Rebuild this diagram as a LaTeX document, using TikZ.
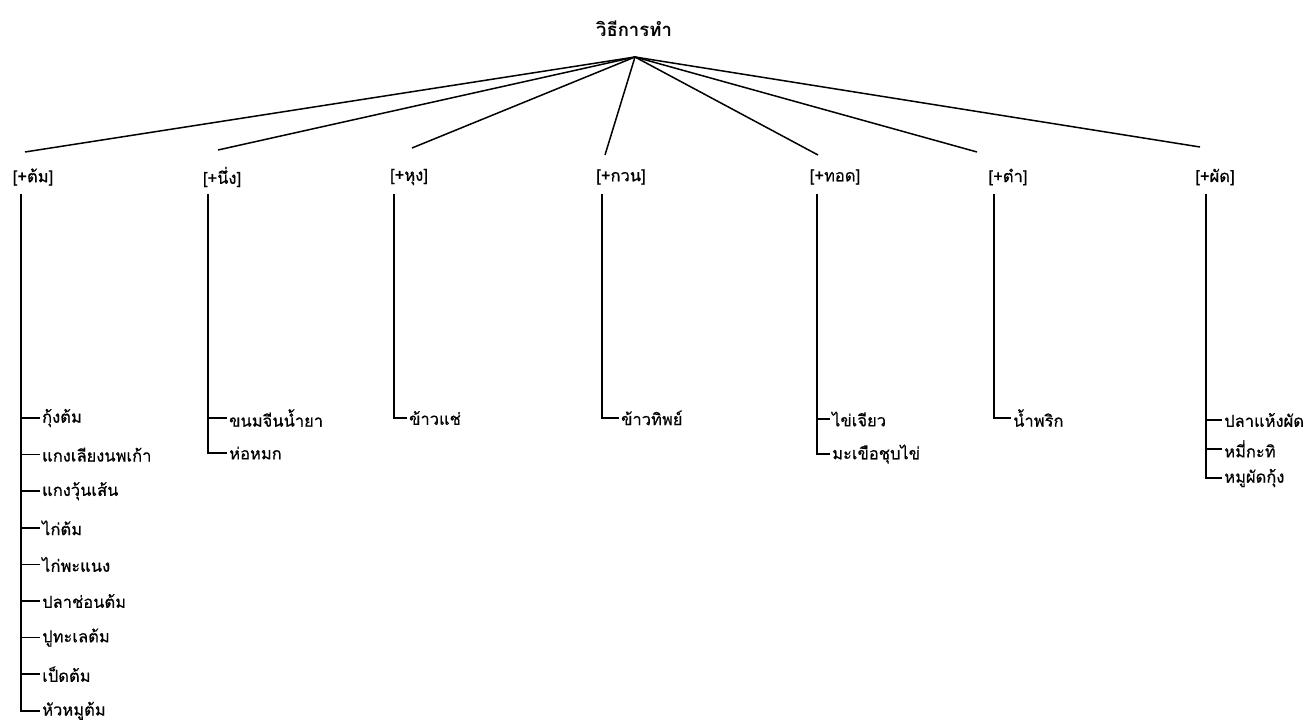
\documentclass[tikz,border=0pt]{standalone}
\usepackage{fontspec}
\newfontfamily\thaifont[Script=Thai,FakeBold=0.6]{Loma}
\newfontfamily\thaititle[Script=Thai]{Loma}
\begin{document}
\begin{tikzpicture}[x=1pt,y=-1pt,
  txt/.style={font=\thaifont\fontsize{16.5}{19}\selectfont, inner sep=0pt},
  titletxt/.style={font=\thaititle\bfseries\fontsize{18.5}{21}\selectfont, inner sep=0pt},
  cat/.style={txt, anchor=center},
  leaf/.style={txt, anchor=west, inner sep=2pt},
  link/.style={line width=1.5pt},
  tree/.style={line width=1.6pt}]
\useasboundingbox (0,0) rectangle (1314,727);

% root
\node[titletxt] (root) at (634,29) {วิธีการทำ};
\coordinate (apex) at (635,57);

% categories
\node[cat] (c1) at (33,177) {[+ต้ม]};
\node[cat] (c2) at (222,177) {[+นึ่ง]};
\node[cat] (c3) at (409,177) {[+หุง]};
\node[cat] (c4) at (621,177) {[+กวน]};
\node[cat] (c5) at (835,177) {[+ทอด]};
\node[cat] (c6) at (1008,177) {[+ตำ]};
\node[cat] (c7) at (1215,177) {[+ผัด]};

% ends of the fan lines
\coordinate (t1) at (25,152);
\coordinate (t2) at (218,150);
\coordinate (t3) at (412,148);
\coordinate (t4) at (605,155);
\coordinate (t5) at (818,155);
\coordinate (t6) at (977,152);
\coordinate (t7) at (1200,147);
\foreach \i in {1,...,7} {\draw[link] (apex) -- (t\i);}

% tops of the vertical lines
\coordinate (v1) at (21,194);
\coordinate (v2) at (208,194);
\coordinate (v3) at (394,194);
\coordinate (v4) at (602,194);
\coordinate (v5) at (817,194);
\coordinate (v6) at (994,194);
\coordinate (v7) at (1206,194);

% leaves: column 1
\node[leaf] (l11) at (40,418) {กุ้งต้ม};
\node[leaf] (l12) at (40,454.6) {แกงเลียงนพเก้า};
\node[leaf] (l13) at (40,491.2) {แกงวุ้นเส้น};
\node[leaf] (l14) at (40,527.8) {ไก่ต้ม};
\node[leaf] (l15) at (40,564.4) {ไก่พะแนง};
\node[leaf] (l16) at (40,601) {ปลาช่อนต้ม};
\node[leaf] (l17) at (40,637.6) {ปูทะเลต้ม};
\node[leaf] (l18) at (40,674.2) {เป็ดต้ม};
\node[leaf] (l19) at (40,710.8) {หัวหมูต้ม};
\draw[tree] (v1) |- (l19.west);
\foreach \k in {1,...,8} {\draw[tree] (v1 |- l1\k.west) -- (l1\k.west);}

% column 2
\node[leaf] (l21) at (227,418) {ขนมจีนน้ำยา};
\node[leaf] (l22) at (227,453) {ห่อหมก};
\draw[tree] (v2) |- (l22.west);
\draw[tree] (v2 |- l21.west) -- (l21.west);

% column 3
\node[leaf] (l31) at (407,418) {ข้าวแช่};
\draw[tree] (v3) |- (l31.west);

% column 4
\node[leaf] (l41) at (619,418) {ข้าวทิพย์};
\draw[tree] (v4) |- (l41.west);

% column 5
\node[leaf] (l51) at (830,419) {ไข่เจียว};
\node[leaf] (l52) at (830,454) {มะเขือชุบไข่};
\draw[tree] (v5) |- (l52.west);
\draw[tree] (v5 |- l51.west) -- (l51.west);

% column 6
\node[leaf] (l61) at (1011,418) {น้ำพริก};
\draw[tree] (v6) |- (l61.west);

% column 7
\node[leaf] (l71) at (1222,420) {ปลาแห้งผัด};
\node[leaf] (l72) at (1222,449) {หมี่กะทิ};
\node[leaf] (l73) at (1222,478) {หมูผัดกุ้ง};
\draw[tree] (v7) |- (l73.west);
\foreach \k in {1,2} {\draw[tree] (v7 |- l7\k.west) -- (l7\k.west);}
\end{tikzpicture}
\end{document}
